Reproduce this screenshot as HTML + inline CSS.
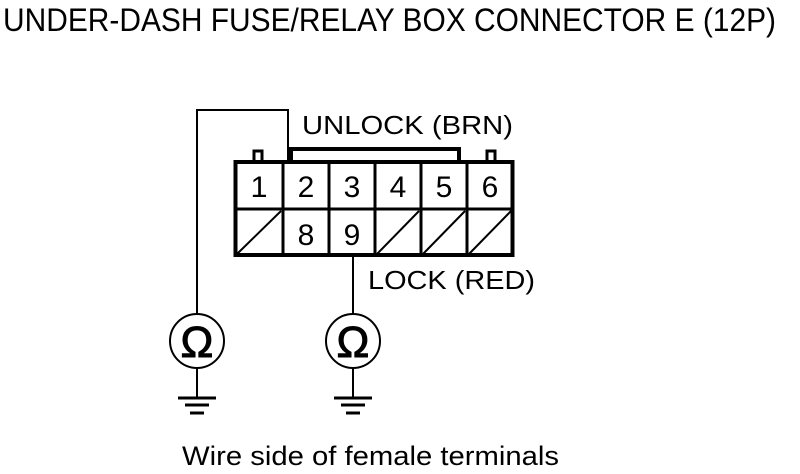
<!DOCTYPE html>
<html><head><style>html,body{margin:0;padding:0;background:#fff;}svg{display:block}</style></head>
<body>
<svg width="800" height="474" viewBox="0 0 800 474" xmlns="http://www.w3.org/2000/svg" font-family="Liberation Sans, Arial, sans-serif">
<text x="3" y="31" font-size="32" textLength="773" lengthAdjust="spacingAndGlyphs">UNDER-DASH FUSE/RELAY BOX CONNECTOR E (12P)</text>
<g stroke="#000" fill="none">
<polyline points="197,314 197,110 288,110 288,161" stroke-width="2"/>
<polyline points="291,161 291,149 459,149 459,161" stroke-width="4"/>
<polyline points="254,161 254,151 262,151 262,161" stroke-width="3"/>
<polyline points="487,161 487,151 495,151 495,161" stroke-width="3"/>
<rect x="235.5" y="162" width="277" height="93" stroke-width="4"/>
<line x1="235" y1="209" x2="513" y2="209" stroke-width="3"/>
<g stroke-width="3">
<line x1="283" y1="161" x2="283" y2="256"/><line x1="329" y1="161" x2="329" y2="256"/>
<line x1="375" y1="161" x2="375" y2="256"/><line x1="421" y1="161" x2="421" y2="256"/>
<line x1="467" y1="161" x2="467" y2="256"/>
</g>
<g stroke-width="2">
<line x1="237" y1="254" x2="281" y2="211"/><line x1="377" y1="254" x2="419" y2="211"/>
<line x1="423" y1="254" x2="465" y2="211"/><line x1="469" y1="254" x2="511" y2="211"/>
<line x1="353" y1="256" x2="353" y2="314"/>
<circle cx="197" cy="341" r="27"/><circle cx="353" cy="341" r="27"/>
<line x1="197" y1="368" x2="197" y2="397"/><line x1="353" y1="368" x2="353" y2="397"/>
</g>
<g stroke-width="3">
<line x1="178" y1="398" x2="216" y2="398"/><line x1="185" y1="405" x2="209" y2="405"/><line x1="190" y1="413" x2="204" y2="413"/>
<line x1="334" y1="398" x2="372" y2="398"/><line x1="341" y1="405" x2="365" y2="405"/><line x1="346" y1="413" x2="360" y2="413"/>
</g>
</g>
<g font-size="30" text-anchor="middle">
<text x="259" y="197" textLength="17" lengthAdjust="spacingAndGlyphs">1</text><text x="306" y="197">2</text><text x="352" y="197">3</text>
<text x="398" y="197">4</text><text x="444" y="197">5</text><text x="490" y="197">6</text>
<text x="306" y="245">8</text><text x="352" y="245">9</text>
<text x="197" y="357" font-size="44" stroke="#000" stroke-width="1">Ω</text><text x="353" y="357" font-size="44" stroke="#000" stroke-width="1">Ω</text>
</g>
<text x="302" y="134" font-size="26" textLength="211" lengthAdjust="spacingAndGlyphs">UNLOCK (BRN)</text>
<text x="368" y="289" font-size="26" textLength="167" lengthAdjust="spacingAndGlyphs">LOCK (RED)</text>
<text x="182" y="465" font-size="27" textLength="377" lengthAdjust="spacingAndGlyphs">Wire side of female terminals</text>
</svg>
</body></html>
